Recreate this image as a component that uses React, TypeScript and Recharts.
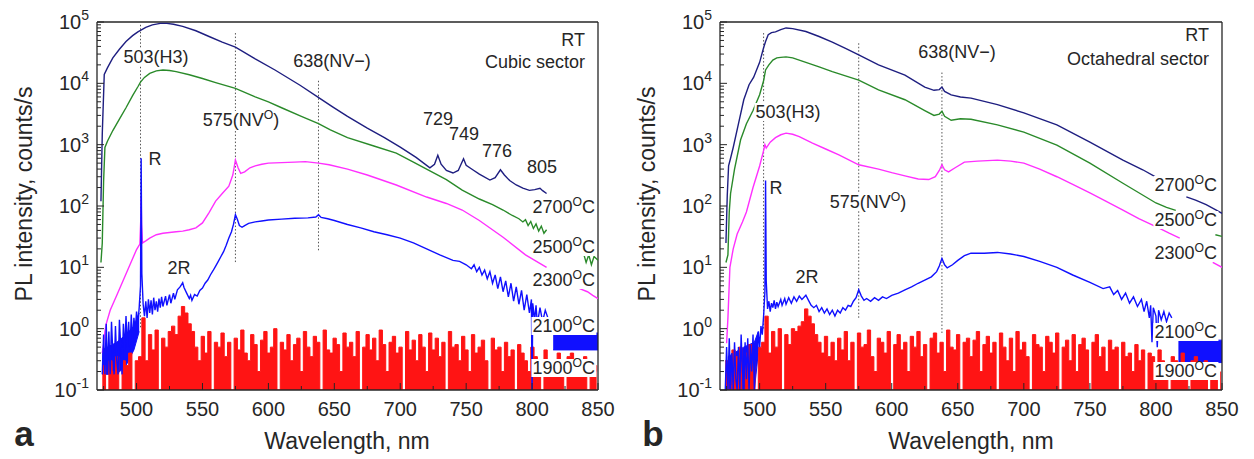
import React from 'react';
import { ComposedChart, Line, Area, XAxis, YAxis, ReferenceLine } from 'recharts';

type Pt = [number, number];
type Row = { x: number; y?: number; lo?: number; hi?: number };

const FONT = '"Liberation Sans", Arial, Helvetica, sans-serif';
const INK = '#262626';
const NAVY = '#1e1e80';
const GREEN = '#2a8a2a';
const MAGENTA = '#ff30ff';
const BLUE = '#1010ff';
const RED = '#ff1414';

// axis ticks
const xTicks = [475, 500, 525, 550, 575, 600, 625, 650, 675, 700, 725, 750, 775, 800, 825, 850];
const yDecades = [0.1, 1, 10, 100, 1000, 10000];
const yMults = [1, 2, 3, 4, 5, 6, 7, 8, 9];
const yTicks = [...yDecades.flatMap((d) => yMults.map((m) => d * m)), 100000];

// ---- panel a : cubic sector ----
const navyA: Pt[] = [
  [473, 120], [474, 1500], [475.5, 14000], [478, 18000], [482, 26000], [487, 36000], [492, 48000],
  [497, 60000], [501, 69000], [503, 73000], [507, 82000], [512, 90000], [518, 95000], [523, 95000],
  [528, 92000], [535, 85000], [545, 72000], [555, 58000], [565, 47000], [575, 39000], [590, 25000],
  [605, 16500], [624, 9300], [639, 5700], [649, 4100], [660, 2900], [675, 1860], [688, 1300],
  [700, 910], [712, 620], [722.5, 420], [726, 480], [728.5, 670], [731, 480], [735, 380], [740, 345],
  [744, 380], [748, 590], [750, 460], [755, 390], [760, 330], [768, 265], [772, 290], [776, 390],
  [779, 320], [783, 260], [788, 220], [793, 195], [798, 180], [802, 185], [806, 195], [808, 178],
  [811, 160],
];
const greenA: Pt[] = [
  [473, 12], [474, 25], [475, 250], [476, 900], [478, 1150], [482, 1700], [487, 2600], [492, 4000],
  [497, 6300], [501, 8800], [503, 10500], [506, 12500], [510, 14500], [515, 16000], [520, 16500],
  [525, 16200], [530, 15500], [540, 13800], [550, 12000], [560, 10300], [575, 8300], [590, 6000],
  [600, 5000], [610, 4000], [625, 2900], [638, 2200], [647, 1740], [660, 1300], [680, 950],
  [697, 730], [710, 520], [720, 400], [735, 270], [747, 182], [760, 130], [770, 105], [778, 86],
  [785, 70], [790, 62], [793, 55], [795, 60], [797, 48], [799, 56], [801, 43], [803, 51], [805, 39],
  [807, 47], [809, 36], [811, 41],
];
const greenA2: Pt[] = [[839, 17], [841, 12], [843, 16], [845, 11], [847, 15], [850, 13]];
const magentaA: Pt[] = [
  [474, 0.4], [475, 0.55], [476, 0.9], [477, 1.2], [480, 2], [485, 3.5], [490, 6.2], [495, 11],
  [500, 19.5], [502.5, 24], [503.2, 60], [503.5, 140], [503.8, 50], [504.5, 25], [507, 27],
  [510, 30], [515, 34], [520, 36], [525, 37], [530, 38], [535, 39], [540, 41], [545, 44], [550, 53],
  [555, 78], [560, 120], [565, 160], [570, 210], [573, 320], [575, 560], [577, 420], [579, 340],
  [582, 360], [586, 420], [590, 450], [595, 480], [600, 500], [610, 510], [620, 520], [628, 530],
  [638, 500], [646, 470], [660, 400], [675, 320], [697, 220], [720, 140], [735, 110], [747, 86],
  [760, 58], [778, 31], [795, 16], [811, 10],
];
const magentaA2: Pt[] = [[836, 4.5], [842, 4], [846, 3.5], [850, 3.1]];
const blueA: Pt[] = [
  [474, 0.18], [475, 0.8], [476, 0.18], [477, 1.2], [478, 0.2], [479, 0.9], [480, 0.18], [481, 1.3],
  [482, 0.4], [483, 0.18], [484, 1.1], [485, 0.3], [486, 0.18], [487, 1.4], [488, 0.5], [489, 0.18],
  [490, 1.2], [491, 0.45], [492, 1.6], [493, 0.5], [494, 1.3], [495, 0.45], [496, 1.7], [497, 0.6],
  [498, 1.5], [499, 0.9], [500, 1.9], [501, 1.2], [502, 2.2], [503, 5], [503.5, 600], [504, 8],
  [505, 2.5], [506, 1.6], [507, 2.8], [508, 1.5], [509, 3], [510, 1.8], [511, 2.9], [512, 1.7],
  [513, 3.2], [514, 2], [515, 2.8], [516, 1.9], [517, 3.1], [518, 2.2], [519, 3.3], [520, 2.3],
  [522, 3.4], [523, 2.4], [525, 3.6], [526, 2.6], [528, 3.8], [529, 3], [531, 4.3], [533, 4.8],
  [535, 5.6], [536, 4.7], [538, 3.8], [540, 3.1], [541, 3.5], [542, 2.9], [544, 3.6], [546, 3.4],
  [548, 4.2], [550, 4.6], [552, 5.5], [554, 6.2], [556, 7.5], [558, 8.8], [560, 10.5], [562, 12.5],
  [564, 15], [566, 18], [568, 23], [570, 30], [572, 38], [573.5, 50], [575, 72], [576.5, 60],
  [578, 48], [580, 45], [582, 48], [585, 52], [590, 55], [595, 57], [600, 59], [610, 61], [620, 63],
  [630, 64], [636, 66], [638, 72], [640, 65], [645, 62], [650, 58], [660, 50], [670, 44], [680, 38],
  [690, 34], [700, 30], [710, 25], [720, 20], [730, 16], [740, 13], [745, 12.5], [750, 11],
  [754, 9.5], [756, 11], [758, 8.5], [760, 10], [762, 7.5], [764, 9], [766, 6.5], [768, 8.5],
  [770, 5.5], [772, 7.5], [774, 4.5], [776, 7], [778, 4], [780, 6], [782, 3.3], [784, 5.5],
  [786, 2.8], [788, 4.8], [790, 2.5], [792, 4.2], [794, 2], [796, 3.6], [798, 1.8], [799.5, 3],
  [800, 0.08], [800.5, 2.6], [802, 1.4], [803, 2.4], [804, 1.2], [806, 2.2], [808, 1.3], [810, 2],
  [812, 1.5],
];
// envelope of the dense blue noise at the short-wavelength edge
const blueNoiseA = [
  { x: 474, lo: 0.18, hi: 0.45 }, { x: 485, lo: 0.18, hi: 0.6 }, { x: 492, lo: 0.25, hi: 0.8 },
  { x: 498, lo: 0.45, hi: 1.1 }, { x: 502, lo: 0.9, hi: 1.8 },
];
const blueBandA = [{ x: 816, lo: 0.45, hi: 0.85 }, { x: 850, lo: 0.45, hi: 0.85 }];
// 1900C noise, one reading every 2.5 nm from 474 nm
const redStart = 474;
const redStep = 2.5;
const redA = [
  0.25, 0.1, 0.3, 0.2, 0.35, 0.1, 0.3, 0.25, 0.4, 0.1, 0.3, 0.35, 1.5,
  0.3, 0.8, 0.45, 0.95, 0.1, 0.7, 0.5, 0.9, 1.1, 0.8, 1.6, 2.3, 1.8, 1.2, 0.9,
  0.5, 0.3, 0.75, 0.4, 0.9, 0.1, 0.6,
  0.5, 0.85, 0.35, 0.6, 0.1, 0.7, 0.45, 0.95, 0.4, 0.3, 0.8, 0.55, 0.2, 0.65, 0.9, 0.4, 0.5, 1.0, 0.1, 0.6,
  0.45, 0.8, 0.3, 0.55, 0.7, 0.2, 0.9, 0.5, 0.35, 0.75, 0.6, 0.1, 0.95, 0.45, 0.4, 0.7, 0.55, 0.2, 0.85, 0.5,
  0.6, 0.35, 0.9, 0.1, 0.5, 0.8, 0.45, 0.7, 0.3, 0.95, 0.55, 0.2, 0.6, 0.75, 0.4, 0.5, 0.1, 0.9, 0.45, 0.65,
  0.3, 0.8, 0.5, 0.2, 0.85, 0.45, 0.7, 0.35, 0.6, 0.1, 0.9, 0.5, 0.55, 0.3, 0.75, 0.45, 0.2, 0.8, 0.4, 0.5,
  0.65, 0.3, 0.1, 0.7, 0.45, 0.5, 0.2, 0.6, 0.35, 0.45, 0.1, 0.55, 0.4, 0.3, 0.2, 0.5, 0.35, 0.3, 0.1, 0.45,
  0.3, 0.25, 0.2, 0.4, 0.3, 0.1, 0.35, 0.4, 0.2, 0.3, 0.25, 0.35, 0.1, 0.3, 0.25, 0.2,
];

// ---- panel b : octahedral sector ----
const navyB: Pt[] = [
  [474.5, 25], [475.5, 150], [476.5, 450], [478, 600], [480, 900], [484, 2200], [488, 5400],
  [492, 9500], [495.5, 12600], [500, 22000], [503, 38000], [504.5, 48000], [506.5, 62000],
  [509, 67000], [512, 69000], [516, 75000], [520, 80000], [525, 78000], [535, 70000], [545, 58000],
  [555, 47000], [565, 37000], [575, 29000], [590, 20000], [610, 13600], [625, 8700], [632, 7700],
  [636, 7900], [638, 8700], [640, 7400], [645, 6500], [652, 6000], [660, 5750], [680, 4500],
  [700, 3300], [725, 2100], [750, 1100], [775, 560], [790, 390], [800, 295], [806, 255],
];
const navyB2: Pt[] = [[823, 141], [830, 125], [838, 105], [846, 85], [850, 76]];
const greenB: Pt[] = [
  [474.5, 12], [476, 16], [477, 80], [478, 160], [481, 400], [485.6, 1200], [490, 2200], [495, 3600],
  [500, 6500], [503, 11000], [504.5, 16500], [507, 20000], [510, 24000], [513, 26000], [516, 26500],
  [520, 27000], [525, 26000], [535, 22000], [545, 18500], [555, 15500], [565, 13200], [575, 11300],
  [590, 7800], [610, 5400], [625, 3600], [632, 3000], [636, 3150], [638, 3500], [640, 2900],
  [645, 2500], [652, 2650], [660, 2600], [680, 2100], [700, 1600], [725, 980], [750, 500],
  [775, 235], [800, 112], [808, 95], [815, 85],
];
const greenB2: Pt[] = [[845, 34], [850, 32]];
const magentaB: Pt[] = [
  [475, 0.58], [476, 1.5], [477.5, 10], [480, 20], [483, 35], [487, 55], [490, 80], [495, 200],
  [500, 450], [503, 800], [504, 1000], [505, 880], [508, 1100], [512, 1300], [516, 1450], [520, 1540],
  [525, 1480], [530, 1350], [540, 1060], [550, 850], [560, 680], [575, 470], [590, 400], [600, 350],
  [610, 310], [620, 275], [628, 270], [633, 300], [636, 380], [638, 470], [640, 390], [643, 360],
  [648, 420], [655, 520], [665, 540], [680, 560], [690, 540], [700, 500], [712, 400], [725, 300],
  [737, 225], [750, 163], [762, 120], [775, 86], [787, 62], [800, 46], [810, 36], [818, 30],
];
const magentaB2: Pt[] = [[843, 12], [850, 10]];
const blueB: Pt[] = [
  [474, 0.1], [475, 0.5], [476, 0.1], [477, 0.7], [478, 0.12], [479, 0.4], [480, 0.1], [481, 0.6],
  [482, 0.15], [483, 0.1], [484, 0.5], [485, 0.1], [486, 0.8], [487, 0.2], [488, 0.1], [489, 0.6],
  [490, 0.15], [491, 0.7], [492, 0.1], [493, 0.55], [494, 0.2], [495, 0.8], [496, 0.1], [497, 0.6],
  [498, 0.3], [499, 0.9], [500, 0.5], [501, 1.1], [502, 0.8], [503, 1.6], [504, 4], [504.5, 260],
  [505, 6], [506, 2.1], [507, 2.8], [508, 1.9], [509, 2.6], [510, 2.2], [511, 2.9], [512, 2.1],
  [513, 2.7], [514, 2.3], [516, 3], [517, 2.4], [519, 3.1], [520, 2.5], [522, 3.2], [524, 2.6],
  [526, 3.3], [528, 2.8], [530, 3.4], [532, 3.0], [535, 3.5], [537, 2.9], [539, 2.4], [541, 2.2],
  [543, 2.4], [545, 1.9], [547, 2.2], [549, 1.8], [551, 2.1], [553, 1.7], [555, 2.0], [557, 1.6],
  [559, 2.0], [561, 1.8], [563, 2.2], [565, 2.0], [567, 2.4], [569, 2.3], [571, 2.8], [573, 3.2],
  [575, 4.3], [577, 3.4], [579, 2.9], [581, 3.1], [584, 2.8], [587, 3.2], [590, 2.9], [593, 3.3],
  [596, 3.1], [600, 3.5], [605, 3.8], [610, 4.3], [615, 4.8], [620, 5.5], [625, 6.2], [630, 7],
  [634, 8.5], [636, 10.5], [638, 14], [640, 11], [642, 9.8], [646, 11], [650, 13], [655, 15.5],
  [660, 17], [670, 17], [680, 17.5], [690, 16.5], [700, 15], [712, 12.5], [725, 10], [737, 7.5],
  [750, 5.7], [760, 4.5], [765, 4.8], [768, 3.6], [771, 4.2], [774, 3.0], [777, 3.8], [780, 2.6],
  [783, 3.3], [786, 2.3], [789, 3.0], [791, 1.9], [793, 2.8], [795, 1.5], [796, 2.4], [797, 0.6],
  [798, 2.2], [800, 1.6], [801, 0.5], [802, 2.0], [804, 1.4], [806, 1.9], [808, 1.3], [810, 1.8],
  [812, 1.5],
];
const blueNoiseB = [
  { x: 476, lo: 0.1, hi: 0.35 }, { x: 488, lo: 0.1, hi: 0.5 }, { x: 496, lo: 0.1, hi: 0.6 },
  { x: 499, lo: 0.4, hi: 0.9 },
];
const blueBandB = [{ x: 817, lo: 0.28, hi: 0.65 }, { x: 850, lo: 0.28, hi: 0.65 }];
const redB = [
  0.3, 0.1, 0.45, 0.35, 0.5, 0.1, 0.4, 0.55, 0.3, 0.1, 0.5, 0.6, 1.6,
  0.4, 0.9, 0.5, 1.0, 0.1, 0.8, 0.55, 1.0, 0.9, 1.1, 1.3, 2.1, 1.6, 1.2, 0.8,
  0.6, 0.4, 0.75, 0.35, 0.6, 0.3, 0.7,
  0.45, 0.9, 0.3, 0.6, 0.1, 0.85, 0.5, 0.55, 0.95, 0.35, 0.2, 0.7, 0.6, 0.4, 0.9, 0.1, 0.55, 0.8, 0.45, 0.6,
  0.2, 0.75, 0.5, 0.9, 0.35, 0.55, 0.1, 0.7, 0.85, 0.4, 0.6, 0.2, 0.95, 0.5, 0.45, 0.8, 0.1, 0.6, 0.7, 0.35,
  0.65, 0.9, 0.2, 0.55, 0.75, 0.4, 0.6, 0.1, 0.85, 0.5, 0.3, 0.7, 0.2, 0.9, 0.45, 0.6, 0.35, 0.1, 0.8, 0.55,
  0.5, 0.2, 0.75, 0.6, 0.4, 0.85, 0.1, 0.5, 0.65, 0.3, 0.8, 0.2, 0.55, 0.7, 0.45, 0.1, 0.6, 0.8, 0.35, 0.5,
  0.2, 0.65, 0.45, 0.5, 0.1, 0.6, 0.35, 0.4, 0.2, 0.55, 0.3, 0.45, 0.1, 0.4, 0.35, 0.2, 0.45, 0.3, 0.25, 0.1,
  0.35, 0.3, 0.2, 0.4, 0.25, 0.1, 0.3, 0.35, 0.2, 0.25, 0.3, 0.1, 0.25, 0.2, 0.1, 0.2,
];

// dotted guide lines: wavelength, top and bottom intensity
const guidesA = [
  { nm: 503, top: 90000, bottom: 1 },
  { nm: 575, top: 66000, bottom: 12 },
  { nm: 638, top: 11000, bottom: 18 },
];
const guidesB = [
  { nm: 503, top: 66000, bottom: 1 },
  { nm: 575, top: 45000, bottom: 1.4 },
  { nm: 638, top: 15000, bottom: 0.85 },
];

const pts = (a: Pt[]): Row[] => a.map(([x, y]) => ({ x, y }));
const comb = (vals: number[]): Row[] => vals.map((y, i) => ({ x: redStart + i * redStep, y }));

type Series = { data: Row[]; color: string; kind: 'line' | 'fill' | 'band' };

const LogTick = (props: any) => {
  const { x, y, payload } = props;
  const e = Math.log10(payload.value);
  const exp = Math.round(e);
  const major = Math.abs(e - exp) < 1e-6;
  return (
    <g>
      <line x1={x} x2={x + (major ? 7 : 4)} y1={y} y2={y} stroke={INK} strokeWidth={1} />
      {major && (
        <text x={x - 8} y={y + 7} textAnchor="end" fontSize={20} fill={INK} fontFamily={FONT}>
          10
          <tspan dy={-9} fontSize={14}>{exp}</tspan>
        </text>
      )}
    </g>
  );
};

const WaveTick = (props: any) => {
  const { x, y, payload } = props;
  const major = payload.value % 50 === 0;
  return (
    <g>
      <line x1={x} x2={x} y1={y} y2={y - (major ? 7 : 4)} stroke={INK} strokeWidth={1} />
      {major && (
        <text x={x} y={y + 26} textAnchor="middle" fontSize={20} fill={INK} fontFamily={FONT}>
          {payload.value}
        </text>
      )}
    </g>
  );
};

const Panel = ({ left, width, right, series, guides }: { left: number; width: number; right: number; series: Series[]; guides: typeof guidesA }) => (
  <div style={{ position: 'absolute', left, top: 0 }}>
    <ComposedChart width={width} height={459} margin={{ top: 22, right, bottom: 0, left: 0 }}>
      <XAxis
        type="number"
        dataKey="x"
        domain={[470, 850]}
        allowDataOverflow
        ticks={xTicks}
        interval={0}
        tickLine={false}
        tickSize={0}
        tickMargin={0}
        tick={WaveTick}
        height={69}
        axisLine={{ stroke: INK, strokeWidth: 1.3 }}
      />
      <YAxis
        type="number"
        scale="log"
        domain={[0.1, 100000]}
        allowDataOverflow
        ticks={yTicks}
        interval={0}
        tickLine={false}
        tickSize={0}
        tickMargin={0}
        tick={LogTick}
        width={97}
        axisLine={{ stroke: INK, strokeWidth: 1.3 }}
      />
      <ReferenceLine y={100000} stroke={INK} strokeWidth={1.3} />
      <ReferenceLine x={850} stroke={INK} strokeWidth={1.3} />
      {guides.map((g) => (
        <ReferenceLine
          key={g.nm}
          segment={[{ x: g.nm, y: g.top }, { x: g.nm, y: g.bottom }]}
          stroke="#555"
          strokeWidth={1}
          strokeDasharray="1.5 2"
        />
      ))}
      {series.map((s, i) =>
        s.kind === 'line' ? (
          <Line key={i} data={s.data} dataKey="y" type="linear" stroke={s.color} strokeWidth={1.4}
            dot={false} activeDot={false} isAnimationActive={false} />
        ) : s.kind === 'fill' ? (
          <Area key={i} data={s.data} dataKey="y" type="stepAfter" stroke={s.color} strokeWidth={1}
            fill={s.color} fillOpacity={1} baseValue={0.1} dot={false} activeDot={false} isAnimationActive={false} />
        ) : (
          <Area key={i} data={s.data} dataKey={(d: Row) => [d.lo, d.hi]} type="linear" stroke={s.color}
            strokeWidth={1} fill={s.color} fillOpacity={1} dot={false} activeDot={false} isAnimationActive={false} />
        )
      )}
    </ComposedChart>
  </div>
);

const Sup = ({ children }: { children: React.ReactNode }) => (
  <span style={{ fontSize: '0.68em', position: 'relative', top: '-0.55em' }}>{children}</span>
);

const Note = ({ x, y, right, size = 18, bg = true, bold, children }: any) => (
  <div
    style={{
      position: 'absolute',
      left: x,
      top: y,
      transform: right ? 'translate(-100%,-50%)' : 'translate(-50%,-50%)',
      fontSize: size,
      fontWeight: bold ? 700 : 400,
      lineHeight: 1,
      whiteSpace: 'nowrap',
      background: bg ? '#fff' : 'transparent',
      padding: '0 1px',
      color: INK,
    }}
  >
    {children}
  </div>
);

const YTitle = ({ x }: { x: number }) => (
  <div
    style={{
      position: 'absolute', left: x, top: 194, transform: 'translate(-50%,-50%) rotate(-90deg)',
      fontSize: 23, lineHeight: 1, whiteSpace: 'nowrap', color: INK,
    }}
  >
    PL intensity, counts/s
  </div>
);

const seriesA: Series[] = [
  { data: pts(navyA), color: NAVY, kind: 'line' },
  { data: pts(greenA), color: GREEN, kind: 'line' },
  { data: pts(greenA2), color: GREEN, kind: 'line' },
  { data: pts(magentaA), color: MAGENTA, kind: 'line' },
  { data: pts(magentaA2), color: MAGENTA, kind: 'line' },
  { data: pts(blueA), color: BLUE, kind: 'line' },
  { data: blueNoiseA, color: BLUE, kind: 'band' },
  { data: blueBandA, color: BLUE, kind: 'band' },
  { data: comb(redA), color: RED, kind: 'fill' },
];

const seriesB: Series[] = [
  { data: pts(navyB), color: NAVY, kind: 'line' },
  { data: pts(navyB2), color: NAVY, kind: 'line' },
  { data: pts(greenB), color: GREEN, kind: 'line' },
  { data: pts(greenB2), color: GREEN, kind: 'line' },
  { data: pts(magentaB), color: MAGENTA, kind: 'line' },
  { data: pts(magentaB2), color: MAGENTA, kind: 'line' },
  { data: pts(blueB), color: BLUE, kind: 'line' },
  { data: blueNoiseB, color: BLUE, kind: 'band' },
  { data: blueBandB, color: BLUE, kind: 'band' },
  { data: comb(redB), color: RED, kind: 'fill' },
];

export default function App() {
  return (
    <div style={{ position: 'absolute', left: 0, top: 0, width: 1254, height: 459, background: '#fff', fontFamily: FONT, overflow: 'hidden' }}>
      <Panel left={0} width={620} right={22} series={seriesA} guides={guidesA} />
      <Panel left={623} width={631} right={32} series={seriesB} guides={guidesB} />

      <YTitle x={24} />
      <YTitle x={647} />
      <Note x={347} y={441} size={23} bg={false}>Wavelength, nm</Note>
      <Note x={971} y={441} size={23} bg={false}>Wavelength, nm</Note>
      <Note x={24} y={433} size={35} bold bg={false}>a</Note>
      <Note x={653} y={433} size={35} bold bg={false}>b</Note>

      {/* panel a notes */}
      <Note x={156} y={57}>503(H3)</Note>
      <Note x={241} y={120}>575(NV<Sup>O</Sup>)</Note>
      <Note x={332} y={61}>638(NV−)</Note>
      <Note x={438} y={119} bg={false}>729</Note>
      <Note x={464} y={134} bg={false}>749</Note>
      <Note x={497} y={151} bg={false}>776</Note>
      <Note x={542} y={167} bg={false}>805</Note>
      <Note x={155} y={159} bg={false}>R</Note>
      <Note x={179} y={268} bg={false}>2R</Note>
      <Note x={586} y={40} right bg={false}>RT</Note>
      <Note x={586} y={62} right bg={false}>Cubic sector</Note>
      <Note x={596} y={207} right>2700<Sup>O</Sup>C</Note>
      <Note x={596} y={247} right>2500<Sup>O</Sup>C</Note>
      <Note x={596} y={280} right>2300<Sup>O</Sup>C</Note>
      <Note x={596} y={326} right>2100<Sup>O</Sup>C</Note>
      <Note x={596} y={368} right>1900<Sup>O</Sup>C</Note>

      {/* panel b notes */}
      <Note x={788} y={112}>503(H3)</Note>
      <Note x={868} y={202}>575(NV<Sup>O</Sup>)</Note>
      <Note x={957} y={52}>638(NV−)</Note>
      <Note x={776} y={188} bg={false}>R</Note>
      <Note x={807} y={277} bg={false}>2R</Note>
      <Note x={1210} y={35} right bg={false}>RT</Note>
      <Note x={1210} y={59} right bg={false}>Octahedral sector</Note>
      <Note x={1218} y={185} right>2700<Sup>O</Sup>C</Note>
      <Note x={1218} y={220} right>2500<Sup>O</Sup>C</Note>
      <Note x={1218} y={253} right>2300<Sup>O</Sup>C</Note>
      <Note x={1218} y={332} right>2100<Sup>O</Sup>C</Note>
      <Note x={1218} y={371} right>1900<Sup>O</Sup>C</Note>
    </div>
  );
}
